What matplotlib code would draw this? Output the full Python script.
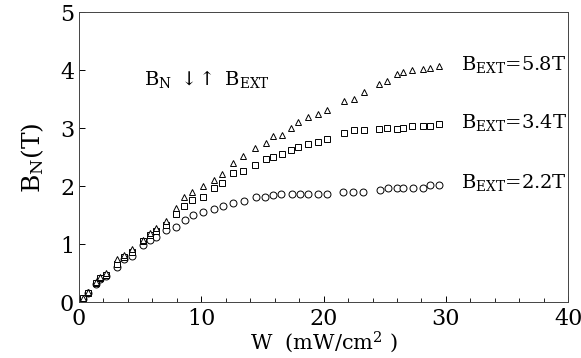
import numpy as np
import matplotlib.pyplot as plt
from matplotlib.ticker import MultipleLocator

plt.rcParams['font.family'] = 'DejaVu Serif'
plt.rcParams['mathtext.fontset'] = 'dejavuserif'

# W (mW/cm^2) for the triangle / square runs
w_hi = [0, 0.3, 0.75, 1.4, 1.7, 2.2, 3.1, 3.7, 4.3, 5.2, 5.8, 6.3, 7.1, 7.9,
        8.6, 9.2, 10.1, 11.0, 11.7, 12.6, 13.4, 14.4, 15.3, 15.9,
        16.6, 17.3, 17.9, 18.7, 19.5, 20.3, 21.7, 22.5, 23.3,
        24.5, 25.2, 26.0, 26.5, 27.2, 28.1, 28.7, 29.4]
b_58 = [0, 0.07, 0.17, 0.34, 0.43, 0.50, 0.74, 0.82, 0.92, 1.08, 1.2, 1.28, 1.4, 1.62,
        1.81, 1.9, 2.0, 2.11, 2.21, 2.4, 2.52, 2.66, 2.75, 2.87,
        2.89, 3.01, 3.11, 3.2, 3.25, 3.32, 3.46, 3.51, 3.62,
        3.77, 3.81, 3.93, 3.97, 4.0, 4.02, 4.03, 4.08]
b_34 = [0, 0.07, 0.15, 0.33, 0.42, 0.47, 0.66, 0.78, 0.86, 1.05, 1.15, 1.22, 1.33, 1.52,
        1.66, 1.76, 1.82, 1.97, 2.06, 2.23, 2.27, 2.37, 2.47, 2.51,
        2.56, 2.63, 2.68, 2.72, 2.76, 2.82, 2.92, 2.96, 2.96,
        2.98, 3.0, 2.99, 3.0, 3.03, 3.03, 3.04, 3.08]
# circle run
w_lo = [0, 0.3, 0.75, 1.4, 1.7, 2.2, 3.1, 3.7, 4.3, 5.2, 5.8, 6.3, 7.1, 7.9,
        8.7, 9.3, 10.1, 11.0, 11.8, 12.6, 13.5, 14.5, 15.2, 15.9,
        16.5, 17.4, 18.1, 18.7, 19.5, 20.3, 21.6, 22.4, 23.2,
        24.6, 25.3, 26.0, 26.5, 27.3, 28.1, 28.7, 29.4]
b_22 = [0, 0.05, 0.15, 0.32, 0.40, 0.45, 0.60, 0.74, 0.80, 0.98, 1.08, 1.13, 1.25, 1.30,
        1.42, 1.5, 1.56, 1.6, 1.66, 1.71, 1.75, 1.81, 1.81, 1.85,
        1.86, 1.86, 1.86, 1.86, 1.86, 1.86, 1.9, 1.9, 1.9,
        1.93, 1.97, 1.97, 1.97, 1.97, 1.97, 2.02, 2.02]

labels = ['$\\mathrm{B_{EXT}}$=5.8T', '$\\mathrm{B_{EXT}}$=3.4T', '$\\mathrm{B_{EXT}}$=2.2T']
label_y = [4.1, 3.1, 2.06]

fig = plt.figure(figsize=(5.81, 3.58), dpi=100)
ax = fig.add_axes([0.136, 0.156, 0.842, 0.81])

mk = dict(linestyle='none', mfc='white', mec='black', mew=0.7, ms=5)
ax.plot(w_lo, b_22, marker='o', **mk)
ax.plot(w_hi, b_34, marker='s', **dict(mk, ms=4.5))
ax.plot(w_hi, b_58, marker='^', **mk)

for txt, y in zip(labels, label_y):
    ax.text(31.2, y, txt, fontsize=14, va='center', ha='left')

ax.text(5.3, 3.85, '$\\mathrm{B_N}$ $\\downarrow\\!\\!\\uparrow$ $\\mathrm{B_{EXT}}$',
        fontsize=14, va='center', ha='left')

ax.set_xlim(0, 40)
ax.set_ylim(0, 5)
ax.xaxis.set_major_locator(MultipleLocator(10))
ax.xaxis.set_minor_locator(MultipleLocator(2))
ax.yaxis.set_major_locator(MultipleLocator(1))
ax.tick_params(which='both', direction='in', top=False, right=False, labelsize=16)
ax.tick_params(which='major', length=4, width=0.7)
ax.tick_params(axis='x', pad=4)
ax.tick_params(which='minor', length=3, width=0.6)
for s in ax.spines.values():
    s.set_linewidth(0.7)
    s.set_color('#444444')

ax.set_xlabel('W  (mW/cm$^2$ )', fontsize=15, labelpad=0)
ax.set_ylabel('$\\mathrm{B_N}$(T)', fontsize=18, labelpad=10)

fig.savefig('out.png', dpi=100)
